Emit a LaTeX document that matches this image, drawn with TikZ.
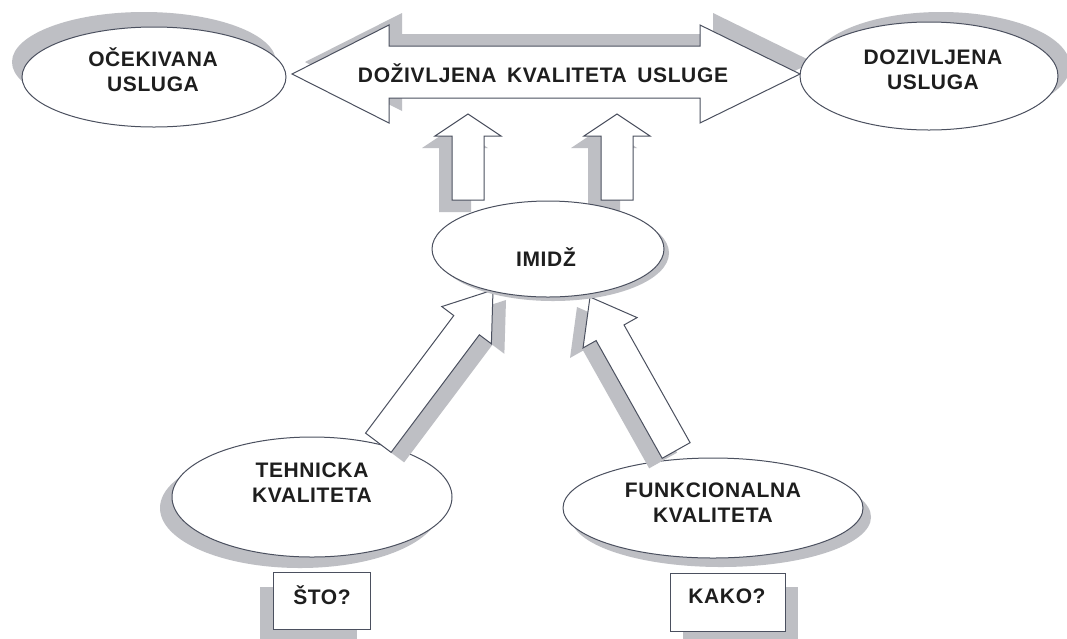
\documentclass[tikz,border=0pt]{standalone}
\usepackage{fontspec}
\setmainfont{Liberation Sans}
\newfontfamily\lblfont[LetterSpace=3]{Liberation Sans}
\usetikzlibrary{shapes.geometric}
\definecolor{shd}{RGB}{190,191,196}
\definecolor{outl}{RGB}{75,80,95}
\definecolor{txt}{RGB}{30,30,30}
% #1 style, #2 #3 tip, #4 angle, #5 total length, #6 head length, #7 head half width, #8 shaft half width
\newcommand{\blkarrow}[8]{%
  \begin{scope}[shift={(#2,#3)},rotate=#4]
    \path[#1] (0,0) -- (-#6,#7) -- (-#6,#8) -- (-#5,#8) -- (-#5,-#8) -- (-#6,-#8) -- (-#6,-#7) -- cycle;
  \end{scope}}
\begin{document}
\begin{tikzpicture}[x=1pt,y=-1pt,
  shadowfill/.style={fill=shd,draw=none},
  shapeline/.style={draw=outl,line width=1pt,fill=white,line join=miter},
  elly/.style={ellipse,shapeline,inner sep=0pt},
  boxy/.style={rectangle,shapeline,inner sep=0pt},
  lbl/.style={text=txt,font=\lblfont\bfseries\fontsize{21}{25}\selectfont,align=center,inner sep=0pt}]
\useasboundingbox (0,0) rectangle (1067,638);
\fill[white] (0,0) rectangle (1067,638);

% ---- shadows (top level) ----
\fill[shd] (144,62) ellipse [x radius=132pt, y radius=50pt];
\fill[shd] (941,66) ellipse [x radius=129pt, y radius=54pt];
\path[shadowfill] (305,62) -- (402,13) -- (402,34) -- (713,34) -- (713,13) -- (813,62) -- (713,111) -- (713,86) -- (402,86) -- (402,111) -- cycle;
\blkarrow{shadowfill}{455}{126}{90}{86}{22}{33}{16}
\blkarrow{shadowfill}{604}{126}{90}{86}{22}{33}{16}
\fill[shd] (300,508) ellipse [x radius=140pt, y radius=60pt];
\fill[shd] (721,517) ellipse [x radius=150pt, y radius=50pt];
\fill[shd] (260,587) rectangle (357,650);
\fill[shd] (683,587) rectangle (798,650);

% ---- big double arrow ----
\path[shapeline] (292,74) -- (389,25) -- (389,46) -- (700,46) -- (700,25) -- (800,74) -- (700,123) -- (700,98) -- (389,98) -- (389,123) -- cycle;
\node[lbl] (dku) at (543,73) {DOŽIVLJENA\hspace{4pt} KVALITETA\hspace{4pt} USLUGE};

% ---- up arrows ----
\blkarrow{shapeline}{468}{114}{90}{86}{22}{33}{16}
\blkarrow{shapeline}{617}{114}{90}{86}{22}{33}{16}

% ---- top ellipses ----
\node[elly,minimum width=264pt,minimum height=100pt] (ocek) at (154,77) {};
\node[lbl] (ocekT) at (153,70) {OČEKIVANA\\USLUGA};
\node[elly,minimum width=258pt,minimum height=108pt] (doz) at (929,76) {};
\node[lbl] (dozT) at (933,70) {DOZIVLJENA\\USLUGA};

% ---- bottom ellipses ----
\node[elly,minimum width=280pt,minimum height=120pt] (teh) at (312,497) {};
\node[lbl] (tehT) at (312,483) {TEHNICKA\\KVALITETA};
\node[elly,minimum width=300pt,minimum height=100pt] (fun) at (713,508) {};
\node[lbl] (funT) at (713,503) {FUNKCIONALNA\\KVALITETA};

% ---- boxes ----
\node[boxy,minimum width=97pt,minimum height=57pt] (sto) at (321.5,600.5) {};
\node[lbl] (stoT) at (322,595) {ŠTO?};
\node[boxy,minimum width=115pt,minimum height=58pt] (kako) at (727.5,602) {};
\node[lbl] (kakoT) at (727,596) {KAKO?};

% ---- diagonal arrows ----
\blkarrow{shadowfill}{506}{300}{53.1}{191}{44}{31}{16}
\blkarrow{shadowfill}{577}{307}{119.3}{176}{41}{31}{16}
\blkarrow{shapeline}{493}{290}{53.1}{191}{44}{31}{16}
\blkarrow{shapeline}{590}{297}{119.3}{176}{41}{31}{16}

% ---- IMIDZ ----
\fill[shd] (553,253) ellipse [x radius=116pt, y radius=48pt];
\node[elly,minimum width=232pt,minimum height=96pt] (imi) at (548,249) {};
\node[lbl] (imiT) at (546,257) {IMIDŽ};
\end{tikzpicture}
\end{document}
